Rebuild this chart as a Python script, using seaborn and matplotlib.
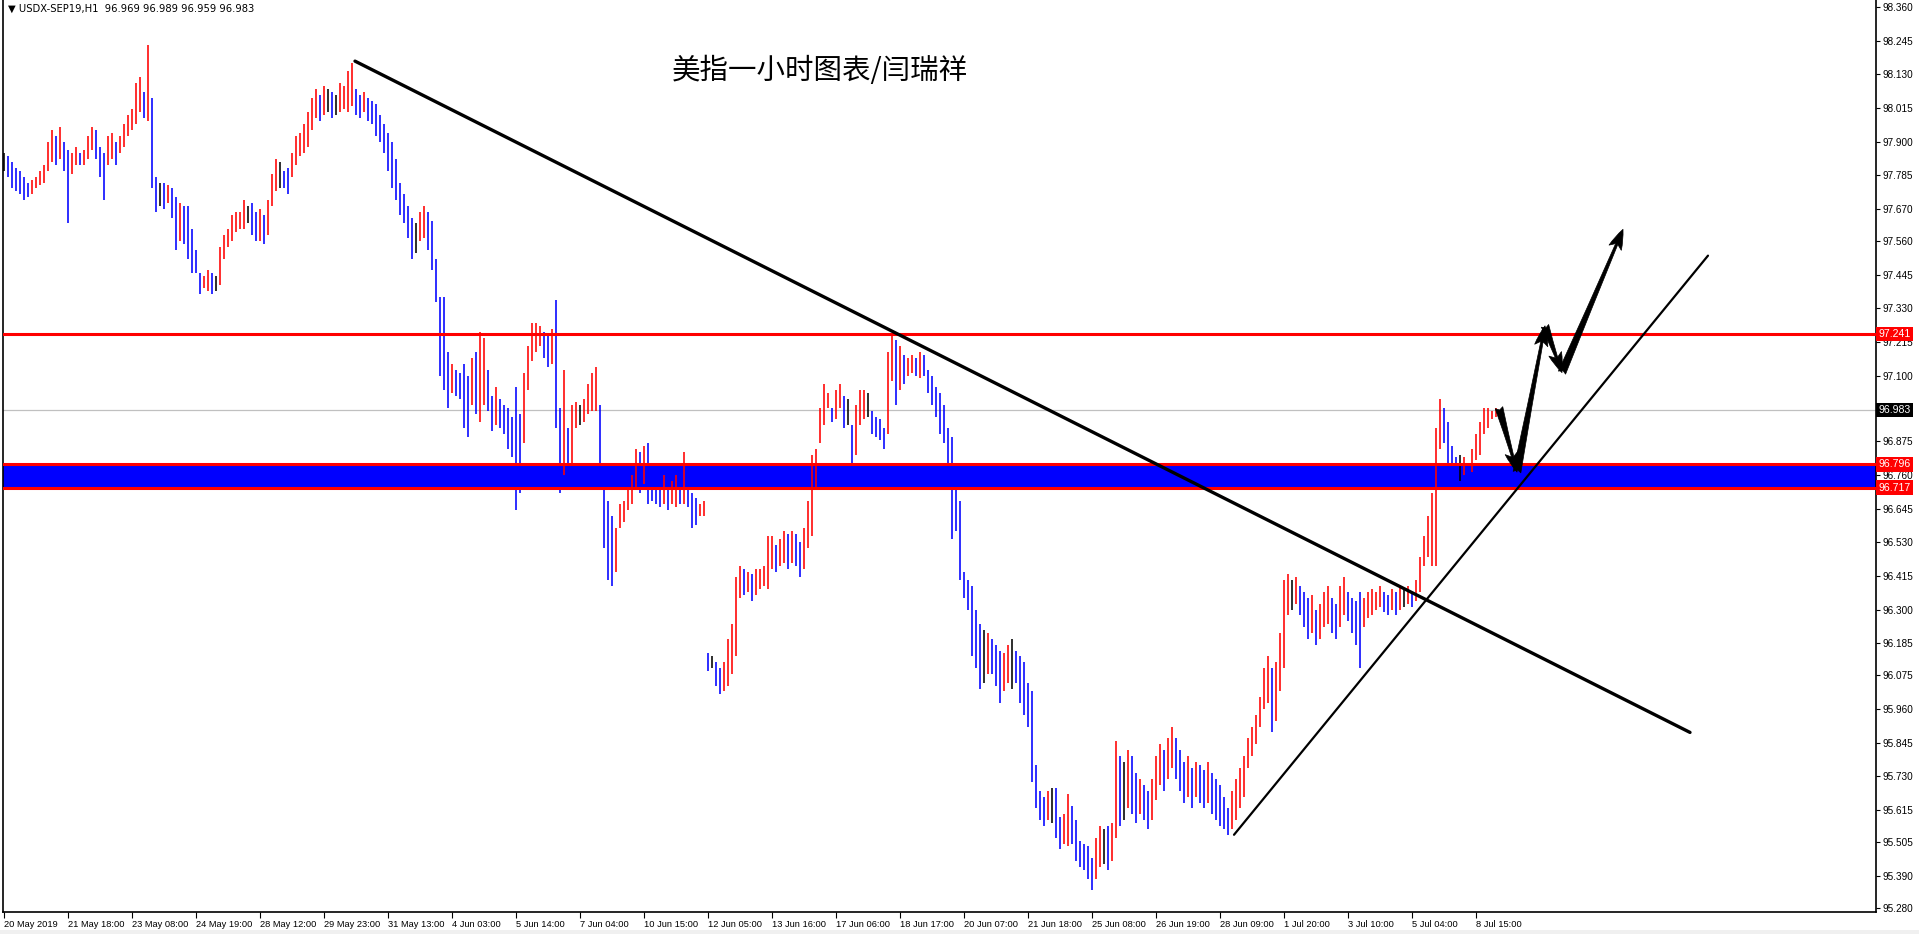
import matplotlib
matplotlib.use("Agg")
import matplotlib.pyplot as plt
import seaborn as sns
import numpy as np
import pandas as pd
from matplotlib.patches import Rectangle, FancyArrowPatch

# ---------------- data (2-hour bars) ----------------
bar_high = [
    97.86, 97.85, 97.83, 97.81, 97.80, 97.78, 97.76, 97.77, 97.78, 97.80,
    97.82, 97.90, 97.94, 97.92, 97.95, 97.90, 97.87, 97.86, 97.88, 97.86,
    97.87, 97.92, 97.95, 97.94, 97.88, 97.86, 97.92, 97.93, 97.90, 97.92,
    97.96, 97.99, 98.01, 98.10, 98.12, 98.07, 98.23, 98.05, 97.78, 97.76,
    97.76, 97.75, 97.74, 97.71, 97.69, 97.68, 97.68, 97.60, 97.53, 97.45,
    97.44, 97.46, 97.45, 97.44, 97.54, 97.58, 97.60, 97.65, 97.66, 97.66,
    97.70, 97.68, 97.69, 97.66, 97.67, 97.65, 97.70, 97.79, 97.84, 97.83,
    97.80, 97.81, 97.86, 97.92, 97.93, 97.96, 98.00, 98.05, 98.08, 98.06,
    98.09, 98.08, 98.07, 98.06, 98.10, 98.09, 98.14, 98.17, 98.08, 98.06,
    98.07, 98.05, 98.04, 98.03, 97.99, 97.96, 97.93, 97.90, 97.84, 97.76,
    97.72, 97.68, 97.64, 97.62, 97.66, 97.68, 97.66, 97.63, 97.50, 97.37,
    97.37, 97.18, 97.14, 97.12, 97.11, 97.14, 97.10, 97.16, 97.18, 97.25,
    97.23, 97.12, 97.03, 97.06, 97.02, 97.00, 96.99, 96.96, 97.06, 96.97,
    97.11, 97.20, 97.28, 97.28, 97.27, 97.25, 97.24, 97.26, 97.36, 96.99,
    97.12, 96.92, 97.00, 97.01, 97.00, 97.02, 97.07, 97.11, 97.13, 97.00,
    96.79, 96.67, 96.62, 96.58, 96.66, 96.67, 96.72, 96.76, 96.85, 96.84,
    96.86, 96.87, 96.76, 96.75, 96.74, 96.76, 96.75, 96.74, 96.76, 96.75,
    96.84, 96.76, 96.70, 96.68, 96.66, 96.67, 96.15, 96.14, 96.12, 96.10,
    96.12, 96.20, 96.25, 96.41, 96.45, 96.44, 96.43, 96.42, 96.44, 96.44,
    96.45, 96.55, 96.55, 96.52, 96.54, 96.57, 96.56, 96.57, 96.56, 96.53,
    96.58, 96.67, 96.83, 96.85, 96.99, 97.07, 97.04, 96.99, 97.05, 97.07,
    97.03, 97.02, 96.93, 97.00, 97.05, 97.05, 97.04, 96.98, 96.96, 96.95,
    96.92, 97.18, 97.24, 97.22, 97.20, 97.17, 97.16, 97.17, 97.16, 97.18,
    97.17, 97.12, 97.10, 97.06, 97.04, 97.00, 96.92, 96.89, 96.73, 96.67,
    96.43, 96.40, 96.38, 96.30, 96.25, 96.23, 96.22, 96.20, 96.18, 96.16,
    96.15, 96.18, 96.20, 96.16, 96.14, 96.12, 96.05, 96.02, 95.77, 95.68,
    95.66, 95.68, 95.69, 95.69, 95.59, 95.60, 95.67, 95.63, 95.58, 95.51,
    95.50, 95.49, 95.45, 95.52, 95.56, 95.55, 95.56, 95.57, 95.85, 95.80,
    95.78, 95.82, 95.80, 95.74, 95.72, 95.70, 95.68, 95.72, 95.80, 95.84,
    95.82, 95.86, 95.90, 95.86, 95.82, 95.78, 95.80, 95.76, 95.78, 95.77,
    95.75, 95.78, 95.74, 95.72, 95.70, 95.66, 95.62, 95.68, 95.72, 95.76,
    95.80, 95.86, 95.90, 95.94, 96.00, 96.10, 96.14, 96.10, 96.12, 96.22,
    96.40, 96.42, 96.40, 96.41, 96.38, 96.36, 96.34, 96.35, 96.30, 96.32,
    96.36, 96.38, 96.34, 96.32, 96.38, 96.41, 96.36, 96.34, 96.33, 96.36,
    96.34, 96.36, 96.37, 96.36, 96.38, 96.36, 96.35, 96.37, 96.36, 96.38,
    96.37, 96.38, 96.36, 96.40, 96.48, 96.55, 96.62, 96.70, 96.92, 97.02,
    96.99, 96.94, 96.86, 96.82, 96.83, 96.82, 96.80, 96.85, 96.90, 96.94,
    96.99, 96.99, 96.98, 96.99,
]
bar_low = [
    97.80, 97.78, 97.74, 97.73, 97.72, 97.70, 97.71, 97.72, 97.74, 97.75,
    97.76, 97.80, 97.83, 97.82, 97.84, 97.80, 97.62, 97.79, 97.82, 97.82,
    97.82, 97.84, 97.87, 97.84, 97.78, 97.70, 97.82, 97.84, 97.82, 97.86,
    97.88, 97.92, 97.94, 97.96, 98.00, 97.98, 97.97, 97.74, 97.66, 97.68,
    97.67, 97.69, 97.64, 97.53, 97.56, 97.55, 97.50, 97.45, 97.45, 97.38,
    97.40, 97.39, 97.38, 97.39, 97.41, 97.50, 97.54, 97.56, 97.59, 97.60,
    97.60, 97.62, 97.58, 97.56, 97.56, 97.55, 97.58, 97.68, 97.73, 97.74,
    97.74, 97.72, 97.78, 97.82, 97.85, 97.86, 97.88, 97.94, 97.98, 97.97,
    97.99, 98.00, 97.98, 97.99, 98.00, 98.01, 98.00, 98.02, 97.99, 97.98,
    98.00, 97.97, 97.96, 97.92, 97.90, 97.86, 97.80, 97.74, 97.70, 97.65,
    97.62, 97.57, 97.50, 97.52, 97.56, 97.57, 97.53, 97.46, 97.35, 97.10,
    97.05, 96.99, 97.04, 97.03, 97.02, 96.92, 96.89, 97.00, 96.97, 96.94,
    97.00, 96.98, 96.91, 96.93, 96.92, 96.90, 96.85, 96.82, 96.64, 96.70,
    96.87, 97.05, 97.15, 97.18, 97.20, 97.16, 97.13, 97.14, 96.92, 96.70,
    96.76, 96.76, 96.80, 96.92, 96.93, 96.94, 96.97, 96.98, 96.98, 96.78,
    96.51, 96.40, 96.38, 96.43, 96.58, 96.60, 96.64, 96.66, 96.71, 96.70,
    96.73, 96.66, 96.67, 96.66, 96.65, 96.66, 96.64, 96.66, 96.65, 96.66,
    96.66, 96.65, 96.58, 96.59, 96.62, 96.62, 96.09, 96.10, 96.04, 96.01,
    96.02, 96.04, 96.08, 96.14, 96.34, 96.35, 96.36, 96.33, 96.35, 96.37,
    96.38, 96.37, 96.44, 96.43, 96.45, 96.46, 96.44, 96.46, 96.45, 96.41,
    96.44, 96.51, 96.55, 96.72, 96.87, 96.93, 96.99, 96.94, 96.95, 96.99,
    96.92, 96.93, 96.80, 96.83, 96.93, 96.95, 96.96, 96.90, 96.89, 96.88,
    96.85, 96.90, 97.08, 97.00, 97.05, 97.07, 97.10, 97.11, 97.10, 97.09,
    97.10, 97.04, 97.00, 96.96, 96.90, 96.87, 96.75, 96.54, 96.57, 96.40,
    96.34, 96.30, 96.14, 96.10, 96.03, 96.05, 96.08, 96.08, 96.04, 95.98,
    96.02, 96.05, 96.03, 96.05, 95.98, 95.94, 95.90, 95.71, 95.62, 95.58,
    95.56, 95.58, 95.57, 95.52, 95.48, 95.50, 95.49, 95.50, 95.44, 95.42,
    95.41, 95.38, 95.34, 95.38, 95.42, 95.43, 95.41, 95.44, 95.52, 95.56,
    95.58, 95.62, 95.60, 95.57, 95.60, 95.58, 95.55, 95.58, 95.65, 95.70,
    95.68, 95.72, 95.76, 95.72, 95.68, 95.64, 95.66, 95.62, 95.66, 95.64,
    95.62, 95.64, 95.60, 95.58, 95.56, 95.55, 95.53, 95.55, 95.58, 95.62,
    95.66, 95.76, 95.80, 95.84, 95.90, 95.96, 95.98, 95.88, 95.92, 96.02,
    96.10, 96.28, 96.30, 96.32, 96.28, 96.24, 96.20, 96.22, 96.18, 96.20,
    96.24, 96.25, 96.22, 96.20, 96.24, 96.28, 96.26, 96.22, 96.18, 96.10,
    96.24, 96.27, 96.28, 96.30, 96.31, 96.29, 96.28, 96.30, 96.28, 96.30,
    96.31, 96.32, 96.31, 96.33, 96.36, 96.45, 96.48, 96.45, 96.45, 96.85,
    96.87, 96.80, 96.78, 96.75, 96.74, 96.76, 96.75, 96.77, 96.81, 96.83,
    96.90, 96.92, 96.95, 96.96,
]

x_tick_pos = [0, 16, 32, 48, 64, 80, 96, 112, 128, 144, 160, 176, 192, 208,
              224, 240, 256, 272, 288, 304, 320, 336, 352, 368]
x_tick_labels = ['20 May 2019', '21 May 18:00', '23 May 08:00', '24 May 19:00',
                 '28 May 12:00', '29 May 23:00', '31 May 13:00', '4 Jun 03:00',
                 '5 Jun 14:00', '7 Jun 04:00', '10 Jun 15:00', '12 Jun 05:00',
                 '13 Jun 16:00', '17 Jun 06:00', '18 Jun 17:00', '20 Jun 07:00',
                 '21 Jun 18:00', '25 Jun 08:00', '26 Jun 19:00', '28 Jun 09:00',
                 '1 Jul 20:00', '3 Jul 10:00', '5 Jul 04:00', '8 Jul 15:00']
y_ticks = [98.360, 98.245, 98.130, 98.015, 97.900, 97.785, 97.670, 97.560,
           97.445, 97.330, 97.215, 97.100, 96.875, 96.760, 96.645, 96.530,
           96.415, 96.300, 96.185, 96.075, 95.960, 95.845, 95.730, 95.615,
           95.505, 95.390, 95.280]

resistance = 97.241
zone_top = 96.796
zone_bottom = 96.717
last_price = 96.983

down_trend_x = [87.75, 421.5]
down_trend_y = [98.175, 95.88]
up_trend_x = [307.5, 426.0]
up_trend_y = [95.53, 97.51]
path_x = [373.75, 378.25, 385.25, 389.5, 404.75]
path_y = [96.99, 96.77, 97.27, 97.11, 97.60]

title_text = "美指一小时图表/闫瑞祥"
header_text = "\u25BC USDX-SEP19,H1  96.969 96.989 96.959 96.983"

# ---------------- figure ----------------
sns.set_theme(style="white")
plt.rcParams['font.family'] = ['Liberation Sans', 'DejaVu Sans', 'Noto Sans CJK SC']

W, H = 1919, 934
fig = plt.figure(figsize=(W / 100, H / 100), dpi=100)
fig.patch.set_facecolor('white')
ax = fig.add_axes([3 / W, (H - 912) / H, (1876 - 3) / W, 912 / H])
ax.set_facecolor('white')

df = pd.DataFrame({'high': bar_high, 'low': bar_low})
df['idx'] = np.arange(len(df))
mid = (df['high'] + df['low']) / 2
prev = mid.shift(1).fillna(mid.iloc[0])
cols = np.where(mid > prev, '#FF0000', np.where(mid < prev, '#0000FF', '#000000'))

# zone + levels
ax.axhspan(zone_bottom, zone_top, color='#0000FF', lw=0, zorder=1)
for lvl in (resistance, zone_top, zone_bottom):
    ax.axhline(lvl, color='#FF0000', lw=2.2, zorder=3)
ax.axhline(last_price, color='#C0C0C0', lw=0.9, zorder=1)

ax.vlines(df['idx'], df['low'], df['high'], colors=cols, linewidth=1.15, zorder=2)

sns.lineplot(x=down_trend_x, y=down_trend_y, ax=ax, color='black', lw=2.4,
             zorder=4, sort=False)
sns.lineplot(x=up_trend_x, y=up_trend_y, ax=ax, color='black', lw=1.6,
             zorder=4, sort=False)

for k in range(len(path_x) - 1):
    arr = FancyArrowPatch((path_x[k], path_y[k]), (path_x[k + 1], path_y[k + 1]),
                          arrowstyle='fancy,head_length=0.9,head_width=0.6,tail_width=0.35',
                          mutation_scale=16, color='black', lw=0.5, zorder=5,
                          shrinkA=0, shrinkB=0)
    ax.add_patch(arr)

ax.set_xlim(-0.25, 468)
ax.set_ylim(95.266, 98.384)

# axes styling
ax.spines['top'].set_visible(False)
for s in ['left', 'right', 'bottom']:
    ax.spines[s].set_visible(True)
    ax.spines[s].set_color('black')
    ax.spines[s].set_linewidth(1.2)

ax.yaxis.tick_right()
ax.set_yticks(y_ticks)
ax.set_yticklabels([f"{v:.3f}" for v in y_ticks])
ax.tick_params(axis='y', which='major', right=True, left=False, direction='out',
               length=3, width=0.8, pad=2, labelsize=7.2, colors='black')
ax.set_xticks(x_tick_pos)
ax.set_xticklabels(x_tick_labels)
ax.tick_params(axis='x', which='major', bottom=True, direction='out', length=4,
               width=0.8, pad=2, labelsize=6.7, colors='black')
for lab in ax.get_xticklabels():
    lab.set_horizontalalignment('left')
ax.grid(False)
ax.set_xlabel('')
ax.set_ylabel('')

# price tags on the right axis
def tag(val, fc):
    ax.text(1.0012, val, f"{val:.3f}", transform=ax.get_yaxis_transform(),
            ha='left', va='center', fontsize=7.6, color='white', zorder=10,
            clip_on=False,
            bbox=dict(boxstyle='square,pad=0.2', fc=fc, ec='none'))

tag(resistance, '#FF0000')
tag(zone_top, '#FF0000')
tag(zone_bottom, '#FF0000')
tag(last_price, '#000000')

# texts
fig.text(8 / W, 1 - 9 / H, header_text, fontsize=7.2, ha='left', va='center',
         color='black', family=['DejaVu Sans'])
fig.text(820 / W, 1 - 71 / H, title_text, fontsize=20.5, ha='center', va='center',
         color='black', family=['Noto Sans CJK SC', 'DejaVu Sans'])

# bottom grey strip
fig.patches.append(Rectangle((0, 0), 1, 4 / H, transform=fig.transFigure,
                             facecolor='#F0F0F0', edgecolor='none', zorder=0))

fig.savefig('out.png', dpi=100, facecolor='white')
